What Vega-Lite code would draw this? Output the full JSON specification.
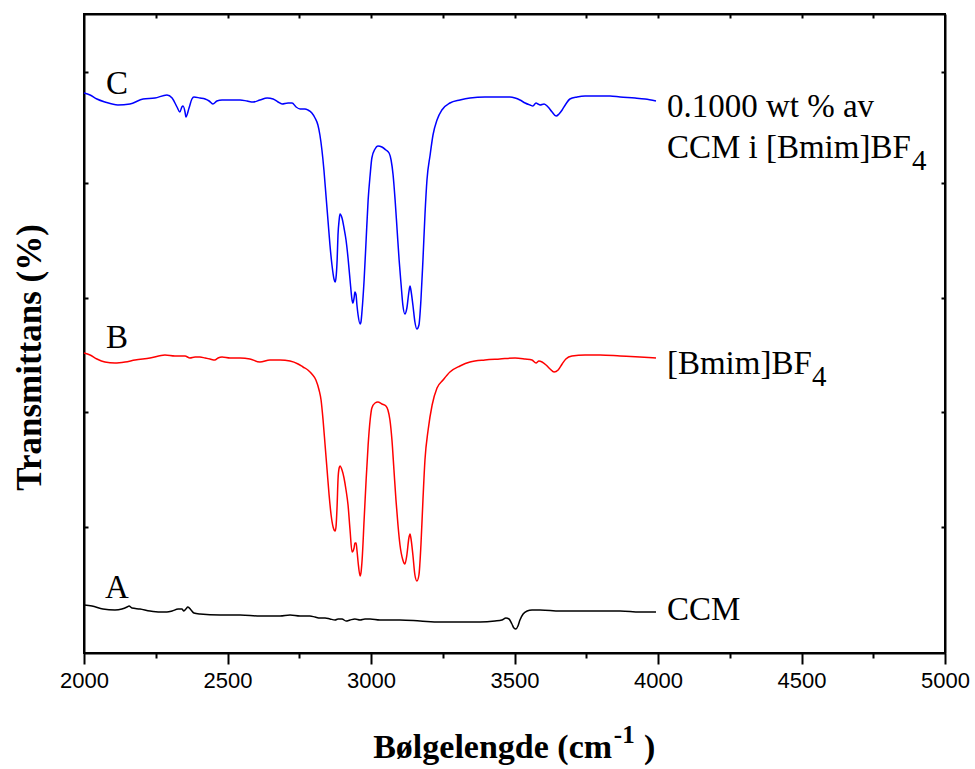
{
  "$schema": "https://vega.github.io/schema/vega-lite/v6.json",
  "width": 861,
  "height": 639,
  "autosize": "none",
  "padding": {"left": 84, "top": 14, "right": 30, "bottom": 116},
  "background": "white",
  "config": {
    "view": {"stroke": "black", "strokeWidth": 2},
    "axis": {"grid": false, "domainColor": "black", "domainWidth": 2, "tickColor": "black", "tickWidth": 2}
  },
  "datasets": {
    "spectra": [
      {"s":"C","x":2000,"y":560},{"s":"C","x":2021,"y":558},{"s":"C","x":2045,"y":554},{"s":"C","x":2073,"y":551},{"s":"C","x":2118,"y":548},{"s":"C","x":2160,"y":549},{"s":"C","x":2206,"y":554},{"s":"C","x":2247,"y":555},{"s":"C","x":2289,"y":558},{"s":"C","x":2307,"y":555},{"s":"C","x":2324,"y":546},{"s":"C","x":2334,"y":541},{"s":"C","x":2341,"y":546},{"s":"C","x":2345,"y":547},{"s":"C","x":2352,"y":541},{"s":"C","x":2355,"y":536},{"s":"C","x":2366,"y":545},{"s":"C","x":2376,"y":554},{"s":"C","x":2383,"y":556},{"s":"C","x":2404,"y":555},{"s":"C","x":2422,"y":554},{"s":"C","x":2436,"y":552},{"s":"C","x":2449,"y":549},{"s":"C","x":2463,"y":552},{"s":"C","x":2481,"y":553},{"s":"C","x":2516,"y":553},{"s":"C","x":2544,"y":553},{"s":"C","x":2568,"y":552},{"s":"C","x":2589,"y":551},{"s":"C","x":2613,"y":553},{"s":"C","x":2638,"y":555},{"s":"C","x":2659,"y":554},{"s":"C","x":2676,"y":551},{"s":"C","x":2690,"y":549},{"s":"C","x":2711,"y":550},{"s":"C","x":2725,"y":550},{"s":"C","x":2739,"y":546},{"s":"C","x":2753,"y":544},{"s":"C","x":2770,"y":544},{"s":"C","x":2780,"y":543},{"s":"C","x":2794,"y":540},{"s":"C","x":2805,"y":535},{"s":"C","x":2815,"y":528},{"s":"C","x":2822,"y":518},{"s":"C","x":2829,"y":503},{"s":"C","x":2836,"y":483},{"s":"C","x":2843,"y":458},{"s":"C","x":2850,"y":433},{"s":"C","x":2857,"y":408},{"s":"C","x":2864,"y":388},{"s":"C","x":2871,"y":374},{"s":"C","x":2875,"y":371},{"s":"C","x":2878,"y":375},{"s":"C","x":2882,"y":393},{"s":"C","x":2885,"y":418},{"s":"C","x":2889,"y":433},{"s":"C","x":2892,"y":439},{"s":"C","x":2899,"y":435},{"s":"C","x":2906,"y":425},{"s":"C","x":2913,"y":413},{"s":"C","x":2920,"y":395},{"s":"C","x":2927,"y":373},{"s":"C","x":2934,"y":353},{"s":"C","x":2937,"y":350},{"s":"C","x":2941,"y":355},{"s":"C","x":2944,"y":361},{"s":"C","x":2948,"y":358},{"s":"C","x":2951,"y":348},{"s":"C","x":2955,"y":338},{"s":"C","x":2962,"y":329},{"s":"C","x":2965,"y":331},{"s":"C","x":2969,"y":343},{"s":"C","x":2976,"y":373},{"s":"C","x":2983,"y":413},{"s":"C","x":2990,"y":453},{"s":"C","x":2997,"y":478},{"s":"C","x":3003,"y":495},{"s":"C","x":3014,"y":504},{"s":"C","x":3024,"y":507},{"s":"C","x":3038,"y":506},{"s":"C","x":3052,"y":503},{"s":"C","x":3063,"y":500},{"s":"C","x":3070,"y":493},{"s":"C","x":3077,"y":478},{"s":"C","x":3084,"y":453},{"s":"C","x":3091,"y":423},{"s":"C","x":3098,"y":393},{"s":"C","x":3105,"y":368},{"s":"C","x":3111,"y":348},{"s":"C","x":3118,"y":339},{"s":"C","x":3125,"y":345},{"s":"C","x":3132,"y":361},{"s":"C","x":3136,"y":367},{"s":"C","x":3139,"y":363},{"s":"C","x":3146,"y":348},{"s":"C","x":3153,"y":331},{"s":"C","x":3160,"y":324},{"s":"C","x":3167,"y":328},{"s":"C","x":3174,"y":353},{"s":"C","x":3181,"y":393},{"s":"C","x":3188,"y":438},{"s":"C","x":3195,"y":473},{"s":"C","x":3206,"y":498},{"s":"C","x":3216,"y":518},{"s":"C","x":3230,"y":533},{"s":"C","x":3247,"y":543},{"s":"C","x":3275,"y":550},{"s":"C","x":3310,"y":553},{"s":"C","x":3345,"y":555},{"s":"C","x":3397,"y":556},{"s":"C","x":3449,"y":556},{"s":"C","x":3484,"y":556},{"s":"C","x":3502,"y":555},{"s":"C","x":3519,"y":553},{"s":"C","x":3537,"y":550},{"s":"C","x":3554,"y":548},{"s":"C","x":3564,"y":547},{"s":"C","x":3575,"y":550},{"s":"C","x":3582,"y":549},{"s":"C","x":3589,"y":548},{"s":"C","x":3603,"y":549},{"s":"C","x":3617,"y":546},{"s":"C","x":3631,"y":541},{"s":"C","x":3645,"y":537},{"s":"C","x":3655,"y":539},{"s":"C","x":3666,"y":543},{"s":"C","x":3679,"y":549},{"s":"C","x":3693,"y":554},{"s":"C","x":3718,"y":556},{"s":"C","x":3746,"y":557},{"s":"C","x":3798,"y":557},{"s":"C","x":3833,"y":557},{"s":"C","x":3868,"y":556},{"s":"C","x":3920,"y":555},{"s":"C","x":3955,"y":554},{"s":"C","x":3993,"y":552},
      {"s":"B","x":2000,"y":300},{"s":"B","x":2021,"y":298},{"s":"B","x":2045,"y":294},{"s":"B","x":2073,"y":291},{"s":"B","x":2108,"y":290},{"s":"B","x":2143,"y":291},{"s":"B","x":2178,"y":293},{"s":"B","x":2230,"y":295},{"s":"B","x":2282,"y":298},{"s":"B","x":2317,"y":297},{"s":"B","x":2352,"y":297},{"s":"B","x":2369,"y":295},{"s":"B","x":2387,"y":296},{"s":"B","x":2404,"y":296},{"s":"B","x":2422,"y":295},{"s":"B","x":2439,"y":294},{"s":"B","x":2456,"y":293},{"s":"B","x":2467,"y":295},{"s":"B","x":2481,"y":296},{"s":"B","x":2509,"y":295},{"s":"B","x":2544,"y":295},{"s":"B","x":2578,"y":294},{"s":"B","x":2613,"y":291},{"s":"B","x":2648,"y":293},{"s":"B","x":2683,"y":293},{"s":"B","x":2718,"y":292},{"s":"B","x":2746,"y":289},{"s":"B","x":2763,"y":286},{"s":"B","x":2780,"y":283},{"s":"B","x":2794,"y":279},{"s":"B","x":2808,"y":273},{"s":"B","x":2819,"y":263},{"s":"B","x":2826,"y":253},{"s":"B","x":2833,"y":233},{"s":"B","x":2840,"y":208},{"s":"B","x":2847,"y":183},{"s":"B","x":2854,"y":158},{"s":"B","x":2861,"y":138},{"s":"B","x":2868,"y":126},{"s":"B","x":2875,"y":122},{"s":"B","x":2878,"y":126},{"s":"B","x":2882,"y":148},{"s":"B","x":2885,"y":173},{"s":"B","x":2889,"y":185},{"s":"B","x":2892,"y":187},{"s":"B","x":2899,"y":183},{"s":"B","x":2906,"y":175},{"s":"B","x":2913,"y":163},{"s":"B","x":2920,"y":148},{"s":"B","x":2927,"y":123},{"s":"B","x":2934,"y":101},{"s":"B","x":2941,"y":105},{"s":"B","x":2944,"y":110},{"s":"B","x":2948,"y":110},{"s":"B","x":2951,"y":103},{"s":"B","x":2955,"y":91},{"s":"B","x":2962,"y":77},{"s":"B","x":2965,"y":80},{"s":"B","x":2969,"y":93},{"s":"B","x":2976,"y":133},{"s":"B","x":2983,"y":173},{"s":"B","x":2990,"y":208},{"s":"B","x":2997,"y":233},{"s":"B","x":3003,"y":245},{"s":"B","x":3014,"y":250},{"s":"B","x":3024,"y":251},{"s":"B","x":3038,"y":249},{"s":"B","x":3052,"y":247},{"s":"B","x":3059,"y":243},{"s":"B","x":3066,"y":233},{"s":"B","x":3073,"y":213},{"s":"B","x":3080,"y":183},{"s":"B","x":3087,"y":153},{"s":"B","x":3094,"y":128},{"s":"B","x":3101,"y":108},{"s":"B","x":3111,"y":93},{"s":"B","x":3118,"y":89},{"s":"B","x":3125,"y":98},{"s":"B","x":3132,"y":115},{"s":"B","x":3136,"y":119},{"s":"B","x":3139,"y":115},{"s":"B","x":3146,"y":98},{"s":"B","x":3153,"y":78},{"s":"B","x":3160,"y":72},{"s":"B","x":3167,"y":78},{"s":"B","x":3174,"y":108},{"s":"B","x":3181,"y":153},{"s":"B","x":3188,"y":193},{"s":"B","x":3199,"y":223},{"s":"B","x":3213,"y":248},{"s":"B","x":3230,"y":265},{"s":"B","x":3251,"y":273},{"s":"B","x":3275,"y":281},{"s":"B","x":3310,"y":287},{"s":"B","x":3345,"y":291},{"s":"B","x":3397,"y":293},{"s":"B","x":3449,"y":294},{"s":"B","x":3502,"y":295},{"s":"B","x":3537,"y":294},{"s":"B","x":3561,"y":293},{"s":"B","x":3575,"y":290},{"s":"B","x":3585,"y":292},{"s":"B","x":3596,"y":291},{"s":"B","x":3610,"y":288},{"s":"B","x":3624,"y":284},{"s":"B","x":3638,"y":281},{"s":"B","x":3652,"y":283},{"s":"B","x":3666,"y":289},{"s":"B","x":3679,"y":294},{"s":"B","x":3700,"y":297},{"s":"B","x":3746,"y":298},{"s":"B","x":3798,"y":298},{"s":"B","x":3868,"y":297},{"s":"B","x":3937,"y":296},{"s":"B","x":3993,"y":295},
      {"s":"A","x":2000,"y":48},{"s":"A","x":2028,"y":47},{"s":"A","x":2066,"y":44},{"s":"A","x":2108,"y":43},{"s":"A","x":2132,"y":44},{"s":"A","x":2150,"y":46},{"s":"A","x":2157,"y":47},{"s":"A","x":2167,"y":45},{"s":"A","x":2195,"y":44},{"s":"A","x":2230,"y":42},{"s":"A","x":2265,"y":41},{"s":"A","x":2289,"y":41},{"s":"A","x":2307,"y":42},{"s":"A","x":2328,"y":44},{"s":"A","x":2341,"y":44},{"s":"A","x":2348,"y":42},{"s":"A","x":2355,"y":44},{"s":"A","x":2362,"y":46},{"s":"A","x":2373,"y":43},{"s":"A","x":2383,"y":40},{"s":"A","x":2404,"y":39},{"s":"A","x":2474,"y":38},{"s":"A","x":2544,"y":38},{"s":"A","x":2613,"y":37},{"s":"A","x":2683,"y":37},{"s":"A","x":2718,"y":38},{"s":"A","x":2753,"y":37},{"s":"A","x":2787,"y":37},{"s":"A","x":2805,"y":36},{"s":"A","x":2822,"y":35},{"s":"A","x":2840,"y":35},{"s":"A","x":2857,"y":34},{"s":"A","x":2875,"y":33},{"s":"A","x":2885,"y":34},{"s":"A","x":2899,"y":34},{"s":"A","x":2913,"y":32},{"s":"A","x":2927,"y":33},{"s":"A","x":2944,"y":34},{"s":"A","x":2962,"y":33},{"s":"A","x":2979,"y":34},{"s":"A","x":2997,"y":34},{"s":"A","x":3031,"y":33},{"s":"A","x":3101,"y":33},{"s":"A","x":3171,"y":32},{"s":"A","x":3240,"y":31},{"s":"A","x":3310,"y":31},{"s":"A","x":3380,"y":31},{"s":"A","x":3432,"y":32},{"s":"A","x":3456,"y":33},{"s":"A","x":3470,"y":35},{"s":"A","x":3481,"y":34},{"s":"A","x":3491,"y":29},{"s":"A","x":3498,"y":25},{"s":"A","x":3505,"y":24},{"s":"A","x":3512,"y":27},{"s":"A","x":3519,"y":33},{"s":"A","x":3530,"y":39},{"s":"A","x":3544,"y":42},{"s":"A","x":3561,"y":43},{"s":"A","x":3589,"y":43},{"s":"A","x":3659,"y":42},{"s":"A","x":3728,"y":42},{"s":"A","x":3798,"y":42},{"s":"A","x":3868,"y":42},{"s":"A","x":3937,"y":41},{"s":"A","x":3993,"y":41}
    ],
    "letters": [
      {"x": 2115, "y": 559, "text": "C"},
      {"x": 2115, "y": 305, "text": "B"},
      {"x": 2115, "y": 55, "text": "A"}
    ],
    "names": [
      {"x": 4031, "y": 536, "text": "0.1000 wt % av"},
      {"x": 4031, "y": 495, "text": "CCM i [Bmim]BF"},
      {"x": 4031, "y": 279, "text": "[Bmim]BF"},
      {"x": 4031, "y": 33, "text": "CCM"}
    ],
    "subs": [
      {"x": 4885, "y": 483, "text": "4"},
      {"x": 4537, "y": 267, "text": "4"}
    ],
    "xtitle": [{"x": 3840, "y": -105, "text": "Bølgelengde (cm"}],
    "xtitleSup": [{"x": 3846, "y": -90, "text": "-1"}],
    "xtitleEnd": [{"x": 3951, "y": -105, "text": ")"}]
  },
  "resolve": {"axis": {"x": "independent", "y": "independent"}},
  "layer": [
    {
      "data": {"name": "spectra"},
      "mark": {"type": "line", "strokeWidth": 1.5, "interpolate": "monotone"},
      "encoding": {
        "x": {"field": "x", "type": "quantitative",
              "scale": {"domain": [2000, 5000], "nice": false, "zero": false},
              "axis": {"orient": "bottom", "values": [2000, 2500, 3000, 3500, 4000, 4500, 5000], "format": "d", "tickSize": 11, "labelFont": "Liberation Sans", "labelFontSize": 22, "labelColor": "black", "labelPadding": 6, "title": null, "labelFlush": false}},
        "y": {"field": "y", "type": "quantitative",
              "scale": {"domain": [0, 639], "nice": false, "zero": false},
              "axis": {"orient": "left", "values": [126, 241, 355, 470, 581], "tickSize": -4, "labels": false, "title": "Transmittans (%)", "titleFont": "Liberation Serif", "titleFontSize": 35, "titleFontWeight": "bold", "titleColor": "black", "titleX": -55, "titleY": 343, "titleBaseline": "middle", "titleAlign": "center"}},
        "color": {"field": "s", "type": "nominal", "scale": {"domain": ["A", "B", "C"], "range": ["#000000", "#ff0000", "#0000ff"]}, "legend": null},
        "order": {"field": "x", "type": "quantitative"}
      }
    },
    {
      "data": {"name": "letters"},
      "mark": {"type": "text", "font": "Liberation Serif", "fontSize": 33, "color": "black", "align": "center", "baseline": "alphabetic"},
      "encoding": {
        "x": {"field": "x", "type": "quantitative",
              "axis": {"orient": "bottom", "values": [2250, 2750, 3250, 3750, 4250, 4750], "tickSize": 5, "labels": false, "domain": false, "title": null}},
        "y": {"field": "y", "type": "quantitative",
              "axis": {"orient": "right", "values": [126, 241, 355, 470, 581], "tickSize": -4, "labels": false, "title": null}},
        "text": {"field": "text"}
      }
    },
    {
      "data": {"name": "names"},
      "mark": {"type": "text", "font": "Liberation Serif", "fontSize": 33, "color": "black", "align": "left", "baseline": "alphabetic"},
      "encoding": {
        "x": {"field": "x", "type": "quantitative",
              "axis": {"orient": "top", "values": [2250, 2500, 2750, 3000, 3250, 3500, 3750, 4000, 4250, 4500, 4750], "tickSize": -4, "labels": false, "title": null}},
        "y": {"field": "y", "type": "quantitative", "axis": null},
        "text": {"field": "text"}
      }
    },
    {
      "data": {"name": "subs"},
      "mark": {"type": "text", "font": "Liberation Serif", "fontSize": 29, "color": "black", "align": "left", "baseline": "alphabetic"},
      "encoding": {
        "x": {"field": "x", "type": "quantitative", "axis": null},
        "y": {"field": "y", "type": "quantitative", "axis": null},
        "text": {"field": "text"}
      }
    },
    {
      "data": {"name": "xtitle"},
      "mark": {"type": "text", "font": "Liberation Serif", "fontSize": 34, "fontWeight": "bold", "color": "black", "align": "right", "baseline": "alphabetic"},
      "encoding": {
        "x": {"field": "x", "type": "quantitative", "axis": null},
        "y": {"field": "y", "type": "quantitative", "axis": null},
        "text": {"field": "text"}
      }
    },
    {
      "data": {"name": "xtitleSup"},
      "mark": {"type": "text", "font": "Liberation Serif", "fontSize": 25, "fontWeight": "bold", "color": "black", "align": "left", "baseline": "alphabetic"},
      "encoding": {
        "x": {"field": "x", "type": "quantitative", "axis": null},
        "y": {"field": "y", "type": "quantitative", "axis": null},
        "text": {"field": "text"}
      }
    },
    {
      "data": {"name": "xtitleEnd"},
      "mark": {"type": "text", "font": "Liberation Serif", "fontSize": 34, "fontWeight": "bold", "color": "black", "align": "left", "baseline": "alphabetic"},
      "encoding": {
        "x": {"field": "x", "type": "quantitative", "axis": null},
        "y": {"field": "y", "type": "quantitative", "axis": null},
        "text": {"field": "text"}
      }
    }
  ]
}
